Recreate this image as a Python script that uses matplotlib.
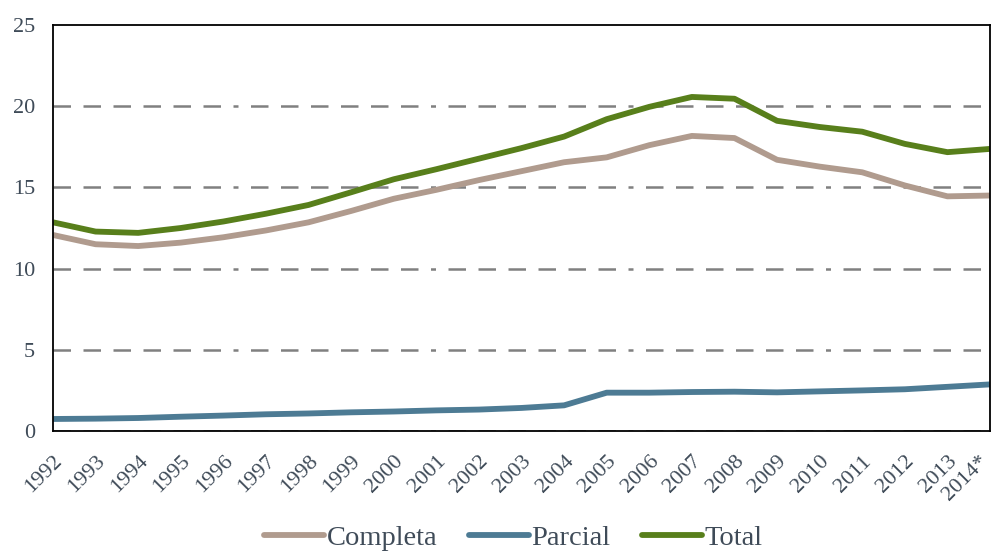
import matplotlib
matplotlib.use("Agg")
import matplotlib.pyplot as plt
import matplotlib.transforms as mtransforms
from matplotlib.lines import Line2D

years = ["1992", "1993", "1994", "1995", "1996", "1997", "1998", "1999",
         "2000", "2001", "2002", "2003", "2004", "2005", "2006", "2007",
         "2008", "2009", "2010", "2011", "2012", "2013", "2014*"]

completa = [12.07, 11.50, 11.39, 11.60, 11.93, 12.35, 12.85, 13.55, 14.30,
            14.85, 15.45, 16.00, 16.55, 16.85, 17.60, 18.17, 18.04, 16.70,
            16.28, 15.93, 15.12, 14.45, 14.50]
parcial = [0.74, 0.76, 0.80, 0.88, 0.95, 1.03, 1.08, 1.15, 1.20, 1.27, 1.32,
           1.42, 1.58, 2.36, 2.36, 2.40, 2.42, 2.38, 2.44, 2.50, 2.57, 2.72,
           2.87]
total = [12.85, 12.28, 12.20, 12.50, 12.90, 13.38, 13.92, 14.70, 15.50,
         16.12, 16.77, 17.42, 18.13, 19.20, 19.96, 20.57, 20.46, 19.10,
         18.72, 18.43, 17.68, 17.17, 17.37]

y_ticks = [0, 5, 10, 15, 20, 25]

series = [("Completa", completa, "#b09b8e"),
          ("Parcial", parcial, "#4d7b94"),
          ("Total", total, "#587f1b")]

plt.rcParams["font.family"] = ["Liberation Serif", "DejaVu Serif"]
text_color = "#3f4b58"

fig = plt.figure(figsize=(9.91, 5.52), dpi=100)
ax = fig.add_axes([0.0535, 0.2192, 0.9455, 0.7355])

x = list(range(len(years)))
for name, vals, color in series:
    ax.plot(x, vals, color=color, lw=4.2, solid_capstyle="butt",
            solid_joinstyle="round", label=name, zorder=3)

ax.set_xlim(0, len(years) - 1)
ax.set_ylim(0, 25)
ax.set_yticks(y_ticks)
ax.set_yticklabels([str(v) for v in y_ticks])
ax.set_xticks(x)
ax.set_xticklabels(years, rotation=45, ha="right", rotation_mode="anchor")

# dash/dot grid lines across the value axis
grid_dash = (0, (7, 5, 7, 5, 7, 5, 7, 5, 7, 5, 7, 5, 2, 5))
for v in y_ticks[1:-1] + [0]:
    ax.axhline(v, color="#808080", lw=1.8, linestyle=grid_dash, zorder=1)

for side in ["left", "right", "top", "bottom"]:
    ax.spines[side].set_color("black")
    ax.spines[side].set_linewidth(1.3)
    ax.spines[side].set_zorder(4)

ax.tick_params(axis="both", length=0, labelsize=16, colors=text_color)
ax.tick_params(axis="y", pad=13)
ax.tick_params(axis="x", pad=15)

# keep the last category label inside the figure
last = ax.get_xticklabels()[-1]
last.set_transform(last.get_transform()
                   + mtransforms.ScaledTranslation(-12 / 100, 0, fig.dpi_scale_trans))

handles = [Line2D([0], [0], color=c, lw=4.2, solid_capstyle="round")
           for _, _, c in series]
leg = fig.legend(handles, [n for n, _, _ in series], loc="center",
                 bbox_to_anchor=(0.518, 0.026), ncol=3, frameon=False,
                 fontsize=20.5, handlelength=2.1, handletextpad=0.1,
                 columnspacing=1.1)
for t in leg.get_texts():
    t.set_color(text_color)

fig.savefig("out.png", dpi=100)
